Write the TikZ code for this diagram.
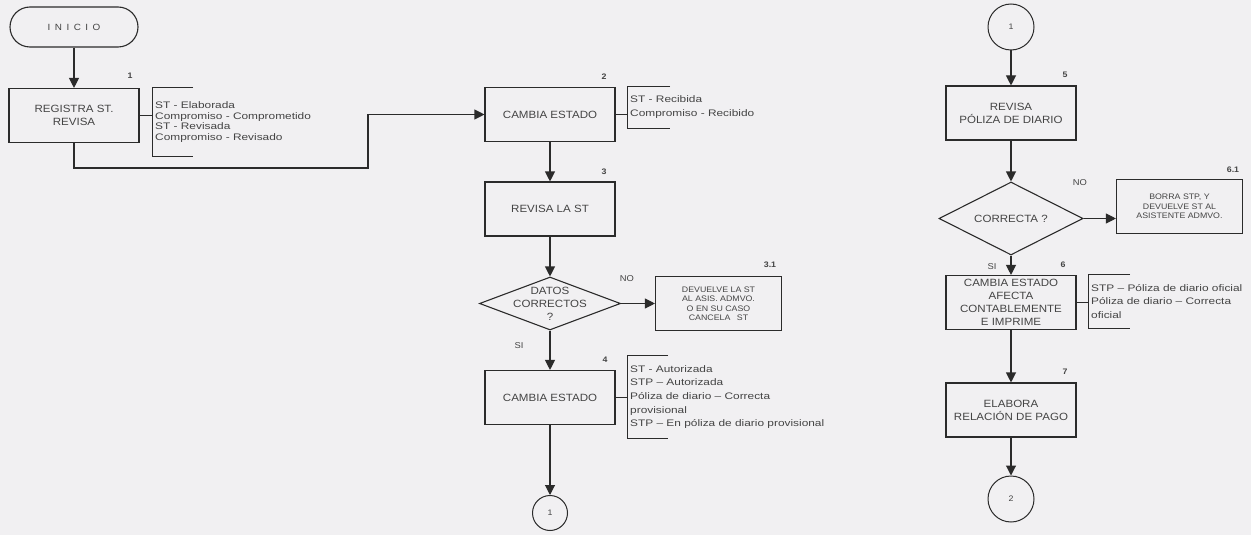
\documentclass[tikz,border=0pt]{standalone}
\usepackage{fontspec}
\setmainfont{Liberation Sans}
\newfontfamily\fuentecaja[FakeStretch=1.1]{Liberation Sans}
\newfontfamily\fuentenota[FakeStretch=1.25]{Liberation Sans}
\usetikzlibrary{shapes.geometric, arrows.meta}
\definecolor{fondo}{HTML}{F1F0F2}
\definecolor{linea}{HTML}{2B2B2B}
\definecolor{texto}{HTML}{444444}

\begin{document}
\begin{tikzpicture}[x=1pt, y=-1pt,
    proceso/.style={draw=linea, line width=1.1pt, rectangle, minimum width=130pt,
      minimum height=54pt, inner sep=0pt, align=center, text=texto,
      font=\fuentecaja\fontsize{10.5}{13}\selectfont},
    chica/.style={proceso, minimum width=126pt, font=\fuentecaja\fontsize{8}{9.5}\selectfont},
    terminal/.style={proceso, minimum width=128pt, minimum height=40pt, rounded corners=20pt,
      font=\fuentecaja\fontsize{9}{10}\selectfont},
    decision/.style={draw=linea, line width=1.1pt, diamond, inner sep=0pt},
    conector/.style={draw=linea, line width=1pt, circle, inner sep=0pt, text=texto,
      font=\fuentecaja\fontsize{8}{10}\selectfont},
    nota/.style={anchor=west, align=left, inner xsep=3pt, inner ysep=0pt, text=texto,
      font=\fuentenota\fontsize{9.5}{10.5}\selectfont},
    numero/.style={text=texto, inner sep=0pt, font=\fuentecaja\bfseries\fontsize{8}{9}\selectfont},
    rotulo/.style={text=texto, inner sep=0pt, font=\fuentecaja\fontsize{8.5}{10}\selectfont},
    flecha/.style={draw=linea, line width=1.1pt, -{Triangle[length=10pt,width=10pt]}},
    corchete/.style={draw=linea, line width=1pt}]

  % fondo del escaneo
  \useasboundingbox (0,0) rectangle (1251,535);
  \fill[fondo] (0,0) rectangle (1251,535);

  % Primera columna
  \node[terminal] (inicio) at (74,27) {I\hspace{4.5pt}N\hspace{4.5pt}I\hspace{4.5pt}C\hspace{4.5pt}I\hspace{4.5pt}O};
  \node[proceso] (b1) at (74,115.5) {REGISTRA ST.\\REVISA};
  \node[numero] (e1) at (130,76) {1};
  \node[nota, minimum height=68pt] (n1) at (152,122)
    {ST - Elaborada\\Compromiso - Comprometido\\ST - Revisada\\Compromiso - Revisado};

  % Segunda columna
  \node[proceso] (b2) at (550,114.5) {CAMBIA ESTADO};
  \node[numero] (e2) at (604,77) {2};
  \node[nota, minimum height=41pt, font=\fuentenota\fontsize{9.5}{14}\selectfont] (n2) at (627,107.5)
    {ST - Recibida\\Compromiso - Recibido};

  \node[proceso] (b3) at (550,209) {REVISA LA ST};
  \node[numero] (e3) at (604,172) {3};

  \node[decision, minimum width=141pt, minimum height=53pt] (d3) at (550,303.5) {};
  \node[proceso, draw=none, minimum width=0pt, minimum height=0pt] (d3t) at (d3) {DATOS\\CORRECTOS\\?};
  \node[rotulo] (no3) at (627,279) {NO};
  \node[rotulo] (si3) at (519,346) {SI};

  \node[chica] (b31) at (718.5,303.5) {DEVUELVE LA ST\\AL ASIS. ADMVO.\\O EN SU CASO\\CANCELA\hspace{4pt} ST};
  \node[numero] (e31) at (770,265) {3.1};

  \node[proceso] (b4) at (550,397.5) {CAMBIA ESTADO};
  \node[numero] (e4) at (605,360) {4};
  \node[nota, minimum height=82pt, font=\fuentenota\fontsize{9.5}{13.7}\selectfont] (n4) at (627,397)
    {ST - Autorizada\\STP – Autorizada\\Póliza de diario – Correcta\\provisional\\STP – En póliza de diario provisional};

  \node[conector, minimum size=35pt] (c1a) at (550,513) {1};

  % Tercera columna
  \node[conector, minimum size=46pt] (c1b) at (1011,27) {1};
  \node[proceso] (b5) at (1011,113) {REVISA\\PÓLIZA DE DIARIO};
  \node[numero] (e5) at (1065,75) {5};

  \node[decision, minimum width=144pt, minimum height=73pt] (d5) at (1011,218.5) {};
  \node[proceso, draw=none, minimum width=0pt, minimum height=0pt] (d5t) at (d5) {CORRECTA ?};
  \node[rotulo] (no5) at (1080,183) {NO};
  \node[rotulo] (si5) at (992,267) {SI};

  \node[chica] (b61) at (1179.5,206.5) {BORRA STP, Y\\DEVUELVE ST AL\\ASISTENTE ADMVO.};
  \node[numero] (e61) at (1233,170) {6.1};

  \node[proceso] (b6) at (1011,302.5) {CAMBIA ESTADO\\AFECTA\\CONTABLEMENTE\\E IMPRIME};
  \node[numero] (e6) at (1063,265) {6};
  \node[nota, minimum height=53pt, font=\fuentenota\fontsize{9.5}{13.5}\selectfont] (n6) at (1088,301.5)
    {STP – Póliza de diario oficial\\Póliza de diario – Correcta\\oficial};

  \node[proceso] (b7) at (1011,410) {ELABORA\\RELACIÓN DE PAGO};
  \node[numero] (e7) at (1065,372) {7};

  \node[conector, minimum size=46pt] (c2) at (1011,499) {2};

  % Flechas
  \coordinate (codo) at (368,168);
  \draw[flecha] (inicio) -- (b1);
  \draw[flecha] (b1.south) |- (codo) |- (b2.west);
  \draw[flecha] (b2) -- (b3);
  \draw[flecha] (b3) -- (d3.north);
  \draw[flecha] (d3.east) -- (b31.west);
  \draw[flecha] (d3.south) -- (b4);
  \draw[flecha] (b4) -- (c1a);
  \draw[flecha] (c1b) -- (b5);
  \draw[flecha] (b5) -- (d5.north);
  \draw[flecha] (d5.east) -- (d5.east -| b61.west);
  \draw[flecha] (d5.south) -- (b6);
  \draw[flecha] (b6) -- (b7);
  \draw[flecha] (b7) -- (c2);

  % Corchetes de estados
  \draw[corchete] ([xshift=41pt]n1.north west) -- (n1.north west) -- (n1.south west) -- ++(41,0);
  \draw[corchete] (b1.east) -- (b1.east -| n1.west);
  \draw[corchete] ([xshift=43pt]n2.north west) -- (n2.north west) -- (n2.south west) -- ++(43,0);
  \draw[corchete] (b2.east) -- (b2.east -| n2.west);
  \draw[corchete] ([xshift=41pt]n4.north west) -- (n4.north west) -- (n4.south west) -- ++(41,0);
  \draw[corchete] (b4.east) -- (b4.east -| n4.west);
  \draw[corchete] ([xshift=42pt]n6.north west) -- (n6.north west) -- (n6.south west) -- ++(42,0);
  \draw[corchete] (b6.east) -- (b6.east -| n6.west);
\end{tikzpicture}
\end{document}
